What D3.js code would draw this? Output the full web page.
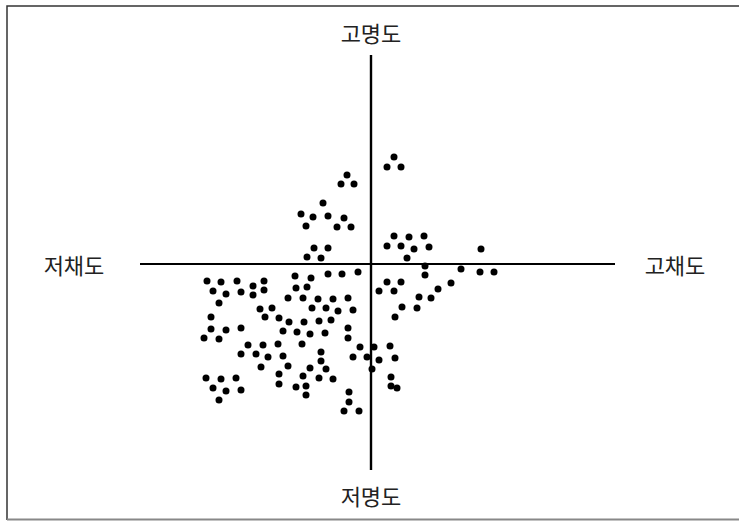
<!DOCTYPE html>
<html>
<head>
<meta charset="utf-8">
<script src="https://cdn.jsdelivr.net/npm/d3@7"></script>
<style>
  body { margin: 0; background: #fff; }
  svg { display: block; }
  text { font-family: "Noto Sans CJK KR", "Noto Sans", sans-serif; }
</style>
</head>
<body>
<script>
// 채도 (x) / 명도 (y), centre of the cross = 0
var chroma = [
  -2.4, -3.0, -1.7, -4.8, -7.0, -5.8, -4.3, -2.7, -6.5, -3.4, -2.0, -5.7, -4.3, -6.4, -5.0,
  2.3, 1.6, 3.0, 2.3, 3.8, 5.3, 1.6, 3.0, 4.3, 5.8, 3.6, 11.0,
  5.4, 5.4, 9.0, 10.9, 12.3, 1.6, 3.0, 0.8, 2.3, 6.7, 8.0, 4.8, 6.0, 3.1, 4.6, 2.4,
  -1.1, 0.3, 1.9, -1.8, -0.4, 0.8, 2.4, 0.1, 2.0, 2.0, 2.6, -2.2, -2.2, -2.7, -1.2,
  -16.4, -15.0, -13.4, -11.8, -10.7, -7.6, -6.0, -4.3, -2.9, -1.3,
  -15.8, -14.5, -13.0, -11.8, -10.7, -7.5, -6.4, -15.2,
  -8.3, -6.8, -5.3, -3.8, -2.3, -11.1, -9.9, -5.9, -4.5, -3.3, -1.8,
  -16.0, -10.6, -9.2, -8.2, -6.7, -5.2, -4.0,
  -16.0, -14.5, -13.0, -16.7, -15.2, -8.8, -7.4, -6.1, -4.6, -2.3, -2.3,
  -12.3, -10.8, -9.3, -6.9, -13.0, -11.5, -10.3, -8.8, -5.0,
  -11.0, -8.3, -5.0, -4.5, -6.1,
  -16.5, -15.0, -13.5, -9.2, -6.8, -5.2, -3.8,
  -15.8, -14.5, -13.0, -9.2, -7.5, -6.5, -6.5, -15.2
];
var lightness = [
  8.9, 8.0, 8.0, 6.1, 5.0, 4.7, 4.8, 4.6, 3.8, 3.7, 3.7, 1.6, 1.6, 0.7, 0.6,
  10.7, 9.7, 9.7, 2.8, 2.7, 2.8, 1.8, 1.8, 1.5, 1.7, 0.6, 1.5,
  -0.2, -1.1, -0.5, -0.8, -0.8, -1.8, -1.8, -2.7, -2.7, -2.5, -1.9, -3.3, -3.4, -4.3, -4.4, -5.3,
  -8.3, -8.3, -8.2, -9.3, -9.3, -9.6, -9.4, -10.5, -11.3, -12.2, -12.4, -12.8, -13.8, -14.7, -14.7,
  -1.7, -1.8, -1.7, -2.2, -1.7, -1.2, -1.4, -1.0, -1.0, -0.8,
  -2.7, -3.0, -2.8, -3.1, -2.6, -2.4, -2.3, -3.9,
  -3.4, -3.4, -3.5, -3.5, -3.4, -4.5, -4.4, -4.4, -4.4, -4.7, -4.6,
  -5.3, -5.3, -5.4, -5.8, -5.8, -5.7, -5.6,
  -6.5, -6.6, -6.4, -7.4, -7.5, -6.7, -6.8, -7.0, -6.9, -6.4, -7.4,
  -8.1, -8.1, -8.0, -8.0, -9.0, -9.0, -9.3, -9.2, -8.8,
  -10.3, -10.2, -9.7, -10.5, -10.4,
  -11.4, -11.5, -11.4, -11.0, -11.2, -11.4, -11.5,
  -12.4, -12.7, -12.6, -12.0, -12.3, -12.2, -13.1, -13.6
];
var xExtent = [-23.1, 24.4];
var yExtent = [-20.6, 20.9];
var axisLabels = { top: "고명도", bottom: "저명도", left: "저채도", right: "고채도" };

var width = 739, height = 522;
var svg = d3.select("body").append("svg").attr("width", width).attr("height", height);

var x = d3.scaleLinear().domain(xExtent).range([140, 615]);
var y = d3.scaleLinear().domain(yExtent).range([470, 55]);

// frame (right side falls outside the picture)
svg.append("path").attr("d", "M7,520V6H739").attr("fill", "none").attr("stroke", "#333").attr("stroke-width", 1.5);
svg.append("line").attr("x1", 7).attr("x2", 739).attr("y1", 519.5).attr("y2", 519.5)
  .attr("stroke", "#888").attr("stroke-width", 2);

// cross
svg.append("line").attr("x1", x(xExtent[0])).attr("x2", x(xExtent[1]))
  .attr("y1", y(0)).attr("y2", y(0)).attr("stroke", "#000").attr("stroke-width", 2.2);
svg.append("line").attr("x1", x(0)).attr("x2", x(0))
  .attr("y1", y(yExtent[0])).attr("y2", y(yExtent[1])).attr("stroke", "#000").attr("stroke-width", 2.4);

svg.selectAll("circle.pt")
  .data(d3.range(chroma.length))
  .enter().append("circle")
  .attr("class", "pt")
  .attr("cx", function(i) { return x(chroma[i]); })
  .attr("cy", function(i) { return y(lightness[i]); })
  .attr("r", 3.5)
  .attr("fill", "#000");

function label(t, cx, cy) {
  svg.append("text").attr("x", cx).attr("y", cy)
    .attr("text-anchor", "middle").attr("dominant-baseline", "central")
    .attr("font-size", 22).attr("fill", "#222").text(t);
}
label(axisLabels.top, x(0), 31.5);
label(axisLabels.bottom, x(0), 495);
label(axisLabels.left, 74, y(0));
label(axisLabels.right, 675, y(0));
</script>
</body>
</html>
